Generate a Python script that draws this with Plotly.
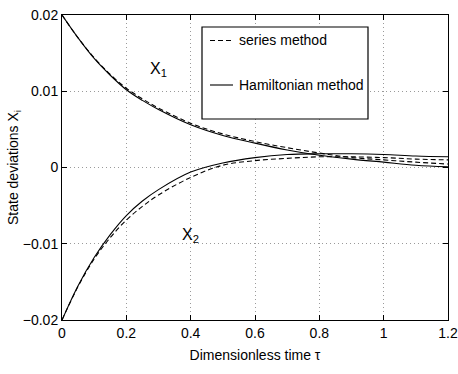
import plotly.graph_objects as go

tau = [0.0, 0.05, 0.1, 0.15, 0.2, 0.25, 0.3, 0.4, 0.5, 0.6, 0.7, 0.8, 0.9, 1.0, 1.1, 1.2]
x1_hamiltonian = [0.0200, 0.0170, 0.0143, 0.0121, 0.0102, 0.0088, 0.0076, 0.0056, 0.0042, 0.0032, 0.0023, 0.0016, 0.0011, 0.0007, 0.0003, 0.0001]
x1_series = [0.0200, 0.0170, 0.0144, 0.0122, 0.0104, 0.0090, 0.0078, 0.0058, 0.0044, 0.0034, 0.0026, 0.0019, 0.0013, 0.0010, 0.0007, 0.00045]
x2_hamiltonian = [-0.0200, -0.0155, -0.0118, -0.0088, -0.0063, -0.0044, -0.0029, -0.0006, 0.0006, 0.0013, 0.0017, 0.0018, 0.0018, 0.0017, 0.0015, 0.0014]
x2_series = [-0.0200, -0.0156, -0.0120, -0.0092, -0.0069, -0.0051, -0.0036, -0.0013, 0.0003, 0.0009, 0.0012, 0.0014, 0.0014, 0.0013, 0.0011, 0.0010]

x_ticks = [0, 0.2, 0.4, 0.6, 0.8, 1.0, 1.2]
x_ticktext = ["0", "0.2", "0.4", "0.6", "0.8", "1", "1.2"]
y_ticks = [-0.02, -0.01, 0, 0.01, 0.02]
y_ticktext = ["\u22120.02", "\u22120.01", "0", "0.01", "0.02"]

FONT = "Liberation Sans, Arial, sans-serif"

fig = go.Figure()
for y, dash in [(x1_series, "5px,3px"), (x2_series, "5px,3px"),
                (x1_hamiltonian, "solid"), (x2_hamiltonian, "solid")]:
    fig.add_trace(go.Scatter(x=tau, y=y, mode="lines", showlegend=False,
                             line=dict(color="black", width=1.1, dash=dash, shape="spline", smoothing=1.0)))

axis_common = dict(showline=True, linecolor="black", linewidth=1, mirror="ticks",
                   ticks="inside", ticklen=5, tickcolor="black",
                   showgrid=True, gridcolor="#9a9a9a", griddash="1px,3px", gridwidth=1,
                   zeroline=False, ticklabeloverflow="allow", automargin=False,
                   tickfont=dict(family=FONT, size=14, color="black"))

fig.update_xaxes(range=[0, 1.2], tickvals=x_ticks, ticktext=x_ticktext,
                 title=dict(text="Dimensionless time \u03c4", font=dict(family=FONT, size=14, color="black"), standoff=10),
                 **axis_common)
fig.update_yaxes(range=[-0.02, 0.02], tickvals=y_ticks, ticktext=y_ticktext,
                 title=dict(text="State deviations X<sub>i</sub>", font=dict(family=FONT, size=14, color="black"), standoff=0),
                 **axis_common)

# curve labels
fig.add_annotation(x=0.3, y=0.0128, text="X<sub>1</sub>", showarrow=False,
                   font=dict(family=FONT, size=16, color="black"))
fig.add_annotation(x=0.4, y=-0.0089, text="X<sub>2</sub>", showarrow=False,
                   font=dict(family=FONT, size=16, color="black"))

# legend box (drawn manually, MATLAB style)
W, H = 458, 374
L, R, T, B = 62, 10, 15, 54
pw, ph = W - L - R, H - T - B
def px(xp):
    return (xp - L) / pw
def py(yp):
    return (H - B - yp) / ph

fig.add_shape(type="rect", xref="paper", yref="paper", x0=px(202), x1=px(368), y0=py(119), y1=py(27),
              line=dict(color="black", width=1.2), fillcolor="white", layer="above")
fig.add_shape(type="line", xref="paper", yref="paper", x0=px(210), x1=px(232), y0=py(40.5), y1=py(40.5),
              line=dict(color="black", width=1.1, dash="5px,3px"), layer="above")
fig.add_shape(type="line", xref="paper", yref="paper", x0=px(210), x1=px(233), y0=py(85), y1=py(85),
              line=dict(color="black", width=1.1), layer="above")
fig.add_annotation(xref="paper", yref="paper", x=px(237), y=py(40.5), xanchor="left", yanchor="middle",
                   text="series method", showarrow=False, font=dict(family=FONT, size=14, color="black"))
fig.add_annotation(xref="paper", yref="paper", x=px(237), y=py(85), xanchor="left", yanchor="middle",
                   text="Hamiltonian method", showarrow=False, font=dict(family=FONT, size=14, color="black"))

fig.update_layout(width=W, height=H, margin=dict(l=L, r=R, t=T, b=B),
                  plot_bgcolor="white", paper_bgcolor="white", showlegend=False)

fig.write_html("out.html")
